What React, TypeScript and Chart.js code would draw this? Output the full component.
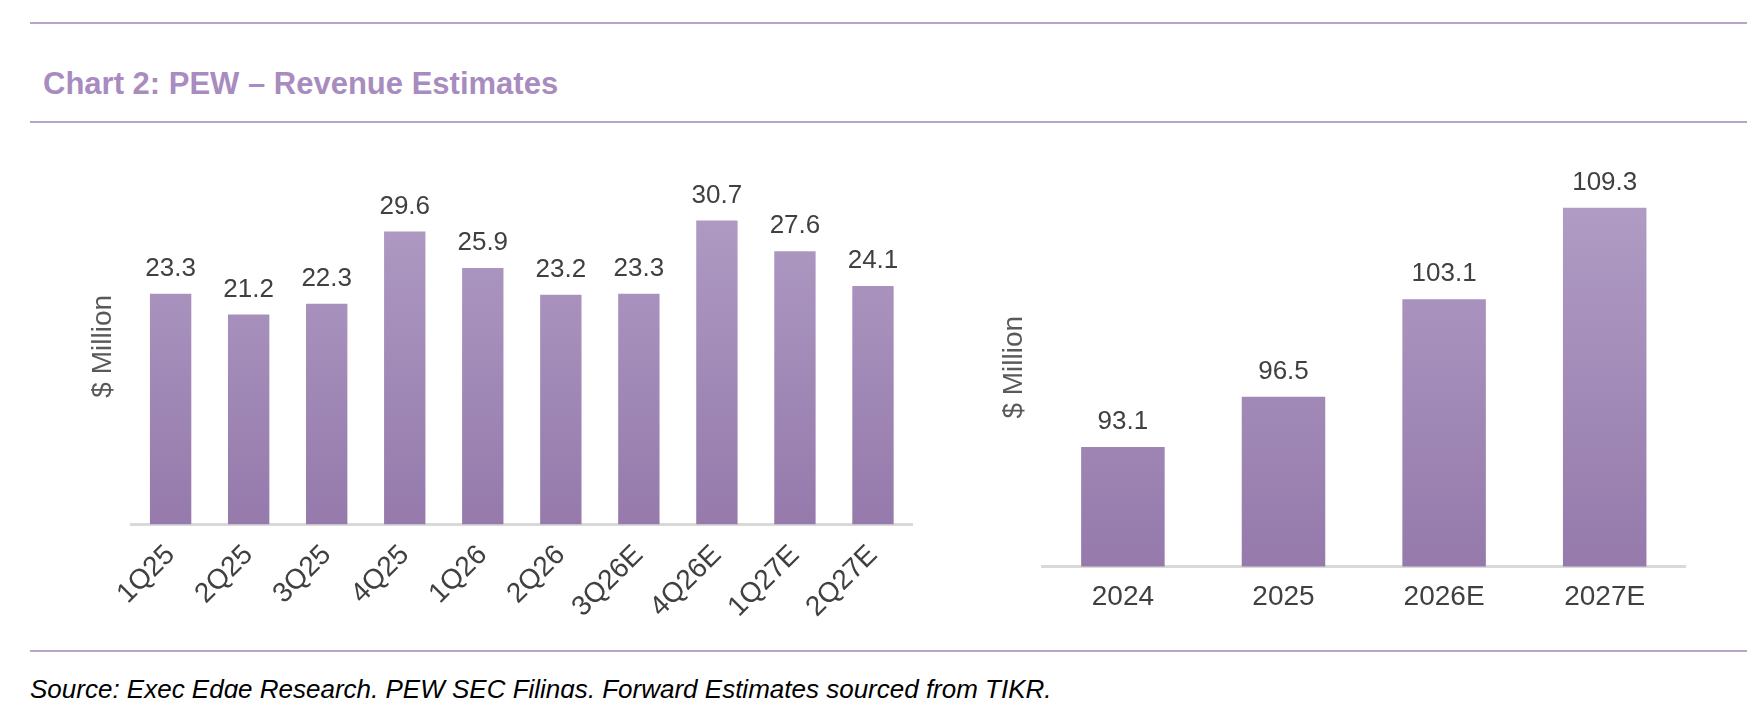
import { useEffect, useRef } from 'react';
import { Chart, registerables } from 'chart.js';

Chart.register(...registerables);

const quarters = ['1Q25', '2Q25', '3Q25', '4Q25', '1Q26', '2Q26', '3Q26E', '4Q26E', '1Q27E', '2Q27E'];
const quarterRevenue = [23.3, 21.2, 22.3, 29.6, 25.9, 23.2, 23.3, 30.7, 27.6, 24.1];
const years = ['2024', '2025', '2026E', '2027E'];
const yearRevenue = [93.1, 96.5, 103.1, 109.3];

const FONT = "'Liberation Sans', Arial, sans-serif";
const PURPLE = '#a48cbd';

const valueLabels = {
  id: 'valueLabels',
  afterDatasetsDraw(chart: any) {
    const ctx = chart.ctx;
    const meta = chart.getDatasetMeta(0);
    ctx.save();
    ctx.font = `26px ${FONT}`;
    ctx.fillStyle = '#404040';
    ctx.textAlign = 'center';
    ctx.textBaseline = 'bottom';
    meta.data.forEach((bar: any, i: number) => {
      ctx.fillText(String(chart.data.datasets[0].data[i]), bar.x, bar.y - 12);
    });
    ctx.restore();
  },
};

function gradient(context: any) {
  const { chart } = context;
  const area = chart.chartArea;
  if (!area) return PURPLE;
  const g = chart.ctx.createLinearGradient(0, area.top, 0, area.bottom);
  g.addColorStop(0, '#b29fc7');
  g.addColorStop(1, '#957aab');
  return g;
}

function BarChart(props: { labels: string[]; values: number[]; min: number; max: number; rotate: boolean; pct: number }) {
  const ref = useRef<HTMLCanvasElement>(null);
  useEffect(() => {
    if (!ref.current) return;
    const chart = new Chart(ref.current, {
      type: 'bar',
      data: {
        labels: props.labels,
        datasets: [{ data: props.values, backgroundColor: gradient, barPercentage: props.pct, categoryPercentage: 1 }],
      },
      options: {
        animation: false,
        responsive: true,
        maintainAspectRatio: false,
        layout: { padding: { top: 0, right: 10 } },
        plugins: { legend: { display: false }, tooltip: { enabled: false } },
        scales: {
          x: {
            grid: { display: false, drawTicks: false },
            border: { display: true, color: '#d9d9d9', width: 3 },
            ticks: {
              color: '#404040',
              font: { family: FONT, size: 28 },
              maxRotation: props.rotate ? 45 : 0,
              minRotation: props.rotate ? 45 : 0,
              padding: 14,
            },
          },
          y: {
            min: props.min,
            max: props.max,
            grid: { display: false },
            border: { display: false },
            ticks: { display: false },
            title: { display: true, text: '$ Million', color: '#595959', font: { family: FONT, size: 28 } },
          },
        },
      },
      plugins: [valueLabels],
    });
    return () => chart.destroy();
  }, []);
  return <canvas ref={ref} />;
}

export default function App() {
  const line = (top: number) => (
    <div style={{ position: 'absolute', left: 22, width: 1720, top, height: 2, background: '#b7a4c9' }} />
  );
  return (
    <div style={{ position: 'relative', width: 1739, height: 690, fontFamily: FONT, background: '#fff' }}>
      {line(14)}
      <div style={{ position: 'absolute', left: 35, top: 58, fontSize: 31, fontWeight: 'bold', color: '#a88cbf' }}>
        Chart 2: PEW – Revenue Estimates
      </div>
      {line(113)}
      <div style={{ position: 'absolute', left: 74, top: 160, width: 840, height: 470 }}>
        <BarChart labels={quarters} values={quarterRevenue} min={0} max={36} rotate={true} pct={0.53} />
      </div>
      <div style={{ position: 'absolute', left: 985, top: 160, width: 702, height: 460 }}>
        <BarChart labels={years} values={yearRevenue} min={85} max={112} rotate={false} pct={0.52} />
      </div>
      {line(642)}
      <div style={{ position: 'absolute', left: 22, top: 666, fontSize: 26, fontStyle: 'italic', color: '#000' }}>
        Source: Exec Edge Research, PEW SEC Filings, Forward Estimates sourced from TIKR.
      </div>
    </div>
  );
}
